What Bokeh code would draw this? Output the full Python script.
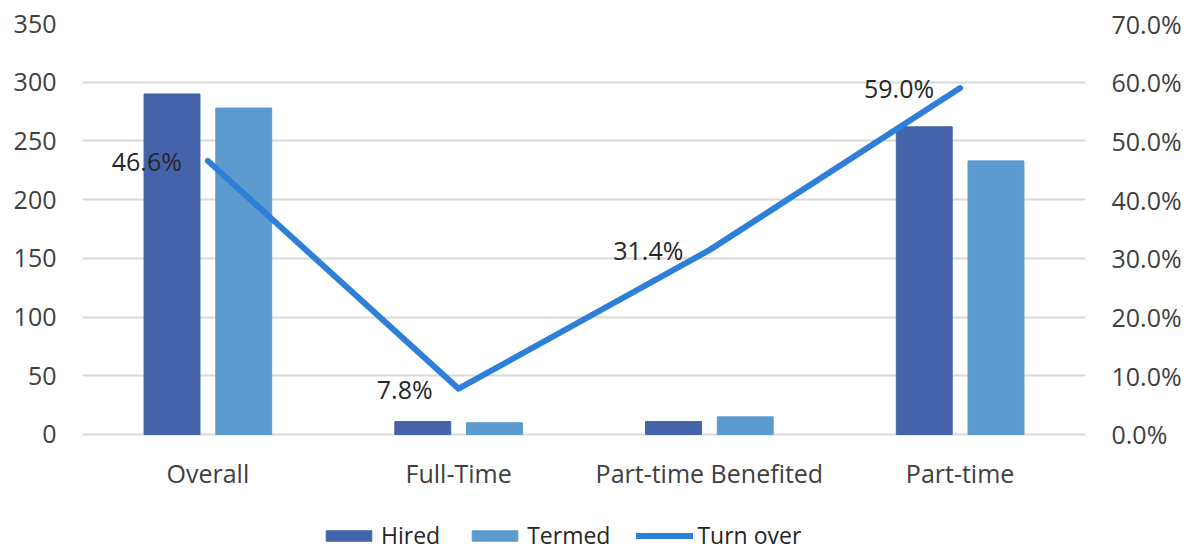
from bokeh.plotting import figure
from bokeh.models import (ColumnDataSource, FactorRange, Range1d, LinearAxis, FixedTicker,
                          NumeralTickFormatter, Legend, LegendItem, LabelSet)
from bokeh.core.properties import value
from bokeh.transform import dodge
from bokeh.embed import file_html
from bokeh.resources import INLINE

categories = ["Overall", "Full-Time", "Part-time Benefited", "Part-time"]
hired = [290, 11, 11, 262]
termed = [278, 10, 15, 233]
turnover = [0.466, 0.078, 0.314, 0.590]
turnover_labels = ["46.6%", "7.8%", "31.4%", "59.0%"]
left_ticks = [0, 50, 100, 150, 200, 250, 300, 350]
right_ticks = [0.0, 0.1, 0.2, 0.3, 0.4, 0.5, 0.6, 0.7]

FONT = "Open Sans"
FS = "25px"
TXT = "#404040"
C_HIRED = "#4563AB"
C_TERMED = "#5B9BD0"
C_LINE = "#2E7FD8"

src = ColumnDataSource(dict(cat=categories, hired=hired, termed=termed,
                            to=turnover, lab=turnover_labels, zero=[0] * len(categories)))

# frame extends to the bottom of the picture so the legend can sit inside it
p = figure(width=1195, height=552, output_backend="svg", toolbar_location=None,
           x_range=FactorRange(*categories, range_padding=0),
           y_range=Range1d(-100.5, 350),
           min_border_left=82, min_border_right=110, min_border_top=23, min_border_bottom=0)
p.extra_y_ranges = {"pct": Range1d(-0.201, 0.7)}
p.outline_line_color = None
p.background_fill_color = "white"
p.border_fill_color = "white"

r1 = p.vbar(x=dodge("cat", -0.143, range=p.x_range), top="hired", width=0.223,
            source=src, fill_color=C_HIRED, line_color=C_HIRED)
r2 = p.vbar(x=dodge("cat", 0.143, range=p.x_range), top="termed", width=0.223,
            source=src, fill_color=C_TERMED, line_color=C_TERMED)
r3 = p.line(x="cat", y="to", source=src, y_range_name="pct",
            line_color=C_LINE, line_width=6, line_cap="round", line_join="round")

labels = LabelSet(x="cat", y="to", text="lab", source=src, y_range_name="pct",
                  x_offset=-26, text_align="right", text_baseline="middle",
                  text_font=value(FONT), text_font_size=value(FS), text_color="#262626")
p.add_layout(labels)

cat_labels = LabelSet(x="cat", y="zero", text="cat", source=src,
                      y_offset=-39, text_align="center", text_baseline="middle",
                      text_font=value(FONT), text_font_size=value(FS), text_color=TXT)
p.add_layout(cat_labels)

# axes
p.xaxis.visible = False
p.yaxis.ticker = FixedTicker(ticks=left_ticks)
right = LinearAxis(y_range_name="pct", ticker=FixedTicker(ticks=right_ticks),
                   formatter=NumeralTickFormatter(format="0.0%"))
p.add_layout(right, "right")

for ax in [p.yaxis[0], right]:
    ax.axis_line_color = None
    ax.major_tick_line_color = None
    ax.minor_tick_line_color = None
    ax.major_tick_out = 0
    ax.major_tick_in = 0
    ax.major_label_text_font = FONT
    ax.major_label_text_font_size = FS
    ax.major_label_text_color = TXT
p.yaxis[0].major_label_standoff = 26
right.major_label_standoff = 26

p.xgrid.grid_line_color = None
p.ygrid.grid_line_color = "#d9d9d9"
p.ygrid.grid_line_width = 2

legend = Legend(items=[LegendItem(label="Hired", renderers=[r1]),
                       LegendItem(label="Termed", renderers=[r2]),
                       LegendItem(label="Turn over", renderers=[r3])],
                location=(238, 1), orientation="horizontal",
                glyph_width=57, glyph_height=13, label_standoff=4, spacing=26,
                padding=0, margin=0, border_line_color=None,
                background_fill_alpha=0,
                label_text_font=FONT, label_text_font_size="23px",
                label_text_color="#262626")
p.add_layout(legend, "center")

open("out.html", "w").write(file_html(p, INLINE))
